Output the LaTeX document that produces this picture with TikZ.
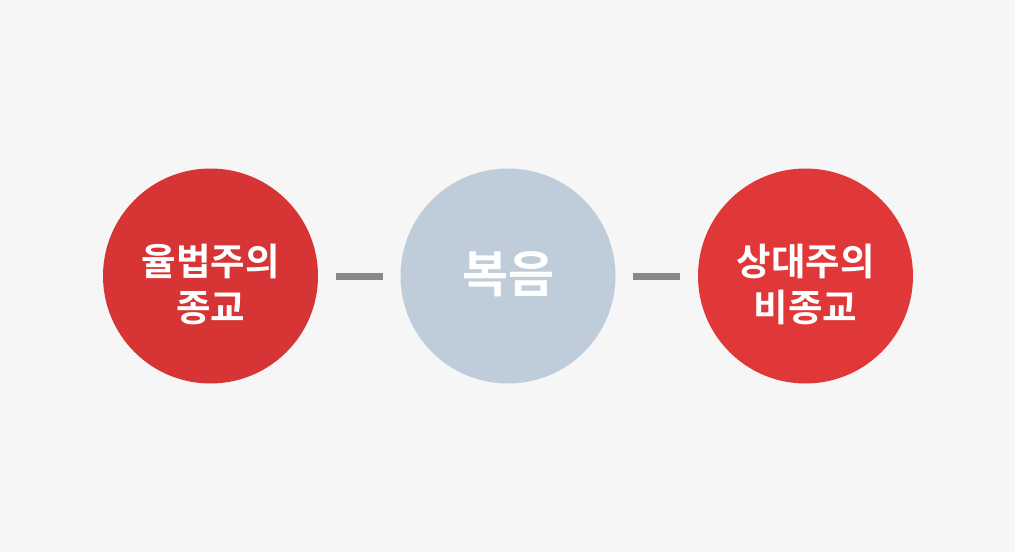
\documentclass[tikz,border=0pt]{standalone}
\usepackage{fontspec}
\newfontfamily\kr{Noto Sans CJK KR Bold}
\definecolor{bg}{HTML}{F6F6F6}
\definecolor{redA}{HTML}{D73535}
\definecolor{redB}{HTML}{E03838}
\definecolor{blueg}{HTML}{BFCCD9}
\definecolor{linec}{HTML}{888888}
\begin{document}
\begin{tikzpicture}[x=1pt,y=-1pt,
  circ/.style={circle,minimum size=215pt,inner sep=0pt},
  lbl/.style={text=white,align=center,inner sep=0pt},
  conn/.style={draw=linec,line width=6.5pt},
  side/.style={font=\kr\fontsize{37.5}{46}\selectfont},
  mid/.style={font=\kr\fontsize{50}{56}\selectfont}]
\fill[bg] (0,0) rectangle (1015,552);
\useasboundingbox (0,0) rectangle (1015,552);
\node[circ,fill=redA] (a) at (210.5,276) {};
\node[circ,fill=blueg] (b) at (508,276) {};
\node[circ,fill=redB] (c) at (805.5,276) {};
\node[lbl,side] (ta) at (210.5,284) {율법주의\\종교};
\node[lbl,mid] (tb) at (508.5,274) {복음};
\node[lbl,side] (tc) at (805.5,284) {상대주의\\비종교};
\coordinate (l1) at (336,276.5);
\coordinate (l2) at (383,276.5);
\coordinate (r1) at (633,276.5);
\coordinate (r2) at (680,276.5);
\draw[conn] (l1) -- (l2);
\draw[conn] (r1) -- (r2);
\end{tikzpicture}
\end{document}
